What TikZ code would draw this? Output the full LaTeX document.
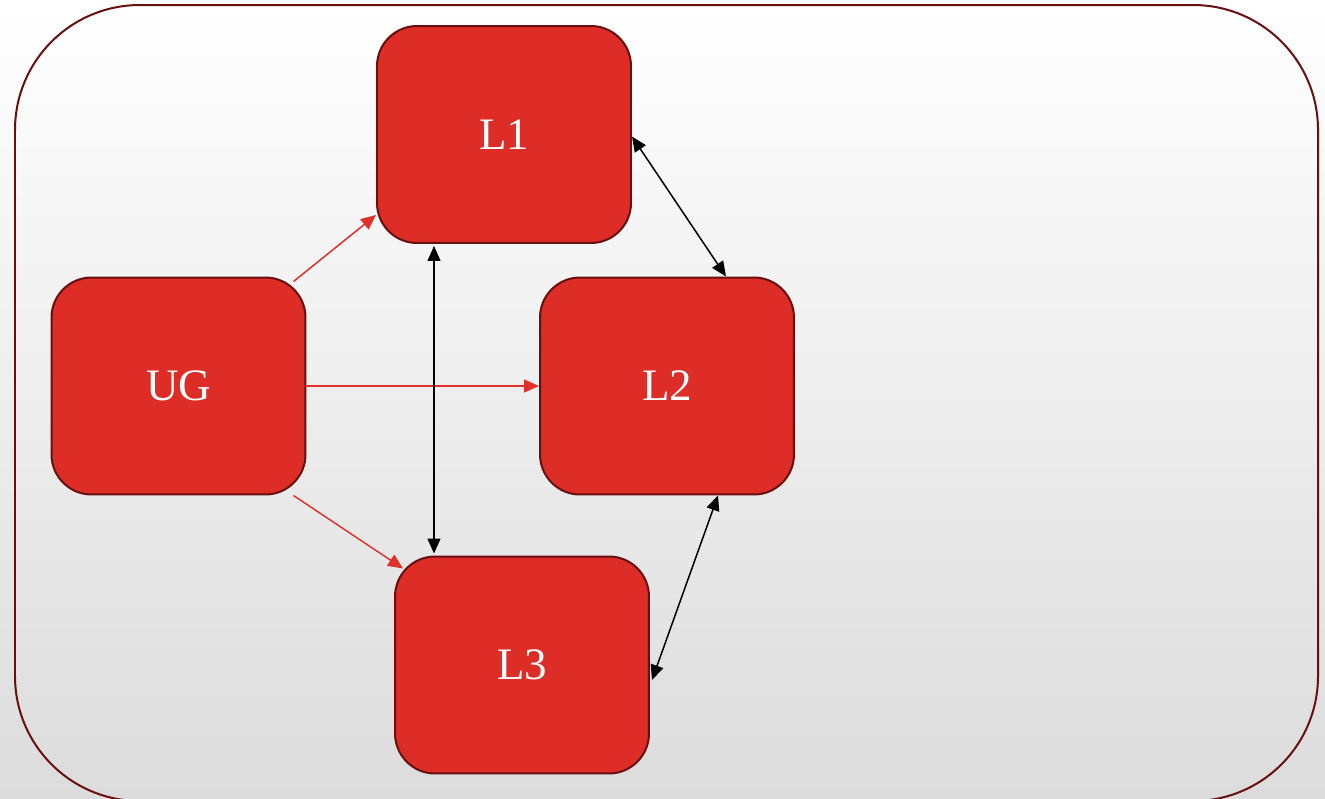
\documentclass[tikz,border=0pt]{standalone}
\usepackage{fontspec}
\setmainfont{Liberation Serif}
\usetikzlibrary{arrows.meta}
\usetikzlibrary{calc}

\definecolor{boxred}{HTML}{DE2D27}
\definecolor{edgered}{HTML}{681010}
\definecolor{arrowred}{HTML}{E0302A}

\tikzset{
	layer/.style={draw=edgered, line width=0.04cm, fill=boxred, rounded corners=0.8cm,
		minimum width=5.08cm, minimum height=4.34cm, text=white,
		font=\fontsize{25.6}{30}\selectfont},
	feed/.style={draw=arrowred, line width=0.03cm, -{Triangle[length=0.3cm,width=0.26cm]}},
	link/.style={draw=black, line width=0.03cm, {Triangle[length=0.3cm,width=0.26cm]}-{Triangle[length=0.3cm,width=0.26cm]}}
}

\begin{document}
\begin{tikzpicture}[x=0.02cm,y=-0.02cm]
		\useasboundingbox (0,0) rectangle (1325,798);
		\fill[top color=white, bottom color={rgb,255:red,220;green,220;blue,220}] (0,0) rectangle (1325,798);
		\draw[edgered, line width=0.04cm, rounded corners=2.5cm] (15,5) rectangle (1318,801);
		
		\node[layer] (l1) at (504,134.5) {L1};
		\node[layer] (ug) at (178.5,386) {UG};
		\node[layer] (l2) at (667,386) {L2};
		\node[layer] (l3) at (522,665) {L3};
		
		\draw[feed] ($(ug.north east)+(-13,5)$) -- ($(l1.south west)+(0,-29)$);
		\draw[feed] (ug.east) -- (l2.west);
		\draw[feed] ($(ug.south east)+(-13,0)$) -- ($(l3.north west)+(9,13)$);
		
		\draw[link] ($(l1.south)+(-70,2)$) -- ($(l3.north)+(-88,-2)$);
		\draw[link] ($(l1.east)+(0,2)$) -- ($(l2.north)+(59,0)$);
		\draw[link] ($(l2.south)+(51,0)$) -- ($(l3.east)+(2,15)$);
		
	\end{tikzpicture}
\end{document}
